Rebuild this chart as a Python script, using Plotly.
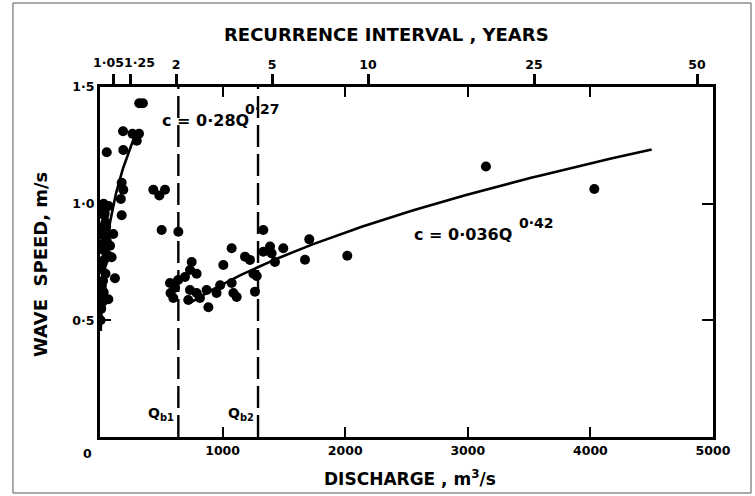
import numpy as np
import plotly.graph_objects as go

# Observed wave speed c (m/s) against discharge Q (m^3/s)
discharge = [
    320, 350, 188, 265, 318, 300, 55, 190,
    177, 190, 170, 177, 108, 82, 95, 122, 68,
    20, 35, 45, 25, 40, 55, 30, 60, 20, 45, 15, 30, 10, 22, 30, 70,
    5, 8, 12, 18, 25, 12, 35, 28, 15, 50, 38,
    435, 530, 484, 503, 639,
    571, 575, 598, 637, 693, 612,
    748, 734, 788, 734, 720, 788, 815, 870, 884, 951, 980, 1006,
    1074, 1074, 1088, 1115, 1183, 1223, 1251, 1264, 1278,
    1332, 1332, 1387, 1400, 1427, 1495, 1707, 1672, 2017,
    3148, 4032,
]
wave_speed = [
    1.43, 1.43, 1.31, 1.30, 1.30, 1.27, 1.22, 1.23,
    1.09, 1.06, 1.02, 0.95, 0.87, 0.82, 0.77, 0.68, 0.59,
    0.97, 0.95, 0.92, 0.90, 0.86, 0.84, 0.80, 0.78, 0.74, 0.70, 0.65, 0.62, 0.55, 0.58, 1.00, 0.99,
    0.50, 0.55, 0.60, 0.63, 0.67, 0.72, 0.76, 0.83, 0.87, 0.90, 0.96,
    1.06, 1.06, 1.035, 0.887, 0.88,
    0.66, 0.617, 0.596, 0.673, 0.686, 0.64,
    0.75, 0.716, 0.70, 0.63, 0.587, 0.617, 0.596, 0.63, 0.556, 0.617, 0.65, 0.737,
    0.809, 0.66, 0.617, 0.60, 0.773, 0.759, 0.70, 0.623, 0.69,
    0.887, 0.794, 0.816, 0.787, 0.75, 0.809, 0.847, 0.76, 0.777,
    1.159, 1.063,
]

# Fitted power laws c = a * Q**b and the discharge span each covers
fit_low = {"a": 0.28, "b": 0.27, "q_from": 6, "q_to": 300,
           "base": "c = 0·28Q", "exp": "0·27"}
fit_high = {"a": 0.036, "b": 0.42, "q_from": 730, "q_to": 4500,
            "base": "c = 0·036Q", "exp": "0·42"}

# Bankfull discharges
bankfull_q = [639, 1289]
bankfull_labels = ["Q<sub>b1</sub>", "Q<sub>b2</sub>"]

# Recurrence interval scale along the top
recurrence_q = [106, 245, 620, 1403, 2186, 3540, 4870]
recurrence_labels = ["1·05", "1·25", "2", "5", "10", "25", "50"]

x_ticks = [1000, 2000, 3000, 4000, 5000]
x_tick_labels = ["1000", "2000", "3000", "4000", "5000"]
y_ticks = [0.5, 1.0, 1.5]
y_tick_labels = ["0·5", "1·0", "1·5"]

FONT = "DejaVu Sans"
INK = "black"


def fit_curve(fit):
    q = np.geomspace(fit["q_from"], fit["q_to"], 120)
    return q, fit["a"] * q ** fit["b"]


fig = go.Figure()

for fit in (fit_low, fit_high):
    q, c = fit_curve(fit)
    fig.add_trace(go.Scatter(x=q, y=c, mode="lines",
                             line=dict(color=INK, width=2.6),
                             hoverinfo="skip", showlegend=False))

fig.add_trace(go.Scatter(x=discharge, y=wave_speed, mode="markers",
                         marker=dict(color=INK, size=10),
                         showlegend=False))

# Invisible trace to carry the top recurrence-interval axis
fig.add_trace(go.Scatter(x=[0, 5000], y=[0, 0], xaxis="x2", mode="markers",
                         marker=dict(opacity=0), hoverinfo="skip",
                         showlegend=False))

for qb in bankfull_q:
    fig.add_shape(type="line", xref="x", yref="y", x0=qb, x1=qb, y0=0, y1=1.5,
                  line=dict(color=INK, width=2.4, dash="22px,7px"))

tick_font = dict(family=FONT, size=12.5, color=INK, weight="bold")

# The two crowded top labels are placed by hand beside their ticks
top_text = ["", ""] + recurrence_labels[2:]

fig.update_layout(
    width=755, height=496,
    margin=dict(l=100, r=42, t=87, b=59),
    paper_bgcolor="white", plot_bgcolor="white",
    xaxis=dict(range=[0, 5000], showgrid=False, zeroline=False,
               showline=True, linecolor=INK, linewidth=3, mirror="ticks",
               ticks="inside", ticklen=10, tickwidth=2, tickcolor=INK,
               tickvals=x_ticks, ticktext=x_tick_labels, tickfont=tick_font,
               tickangle=0),
    xaxis2=dict(range=[0, 5000], overlaying="x", side="top",
                showgrid=False, zeroline=False, showline=False,
                ticks="outside", ticklen=12, tickwidth=2.5, tickcolor=INK,
                tickvals=recurrence_q, ticktext=top_text,
                tickfont=tick_font, tickangle=0),
    yaxis=dict(range=[0, 1.5], showgrid=False, zeroline=False,
               showline=True, linecolor=INK, linewidth=3, mirror="ticks",
               ticks="inside", ticklen=11, tickwidth=2, tickcolor=INK,
               tickvals=y_ticks, ticktext=y_tick_labels, tickfont=tick_font),
)


def bold(size):
    return dict(family=FONT, size=size, color=INK, weight="bold")


annotations = [
    dict(text="RECURRENCE INTERVAL , YEARS", xref="paper", yref="paper",
         x=0.467, y=1.149, xanchor="center", yanchor="middle",
         showarrow=False, font=bold(18)),
    dict(text="DISCHARGE , m<sup>3</sup>/s", xref="paper", yref="paper",
         x=0.506, y=-0.117, xanchor="center", yanchor="middle",
         showarrow=False, font=bold(17)),
    dict(text="WAVE  SPEED, m/s", xref="paper", yref="paper",
         x=-0.098, y=0.494, xanchor="center", yanchor="middle",
         textangle=-90, showarrow=False, font=bold(18)),
    dict(text="0", xref="paper", yref="paper", x=-0.021, y=-0.046,
         xanchor="center", yanchor="middle", showarrow=False, font=tick_font),
    dict(text=recurrence_labels[0], xref="x2", yref="paper",
         x=recurrence_q[0], y=1.069, xshift=-5, xanchor="center",
         yanchor="middle", showarrow=False, font=tick_font),
    dict(text=recurrence_labels[1], xref="x2", yref="paper",
         x=recurrence_q[1], y=1.069, xshift=9, xanchor="center",
         yanchor="middle", showarrow=False, font=tick_font),
]

# Equation labels: base text and a raised exponent
eq_spots = [
    (fit_low, 489, 1.355, 1163, 1.405),
    (fit_high, 2545, 0.870, 3401, 0.917),
]
for fit, xb, yb, xe, ye in eq_spots:
    annotations.append(dict(text=fit["base"], xref="x", yref="y", x=xb, y=yb,
                            xanchor="left", yanchor="middle",
                            showarrow=False, font=bold(16)))
    annotations.append(dict(text=fit["exp"], xref="x", yref="y", x=xe, y=ye,
                            xanchor="left", yanchor="middle",
                            showarrow=False, font=bold(14)))

for qb, lab in zip(bankfull_q, bankfull_labels):
    annotations.append(dict(text=lab, xref="x", yref="y", x=qb, y=0.10,
                            xanchor="right", yanchor="middle", xshift=-2,
                            showarrow=False, font=bold(14)))
fig.update_layout(annotations=annotations)

# Thin outer border around the whole figure
fig.add_shape(type="rect", xref="paper", yref="paper",
              x0=-0.142, x1=1.062, y0=-0.16, y1=1.24,
              line=dict(color="#555555", width=1))

fig.write_html("out.html")
